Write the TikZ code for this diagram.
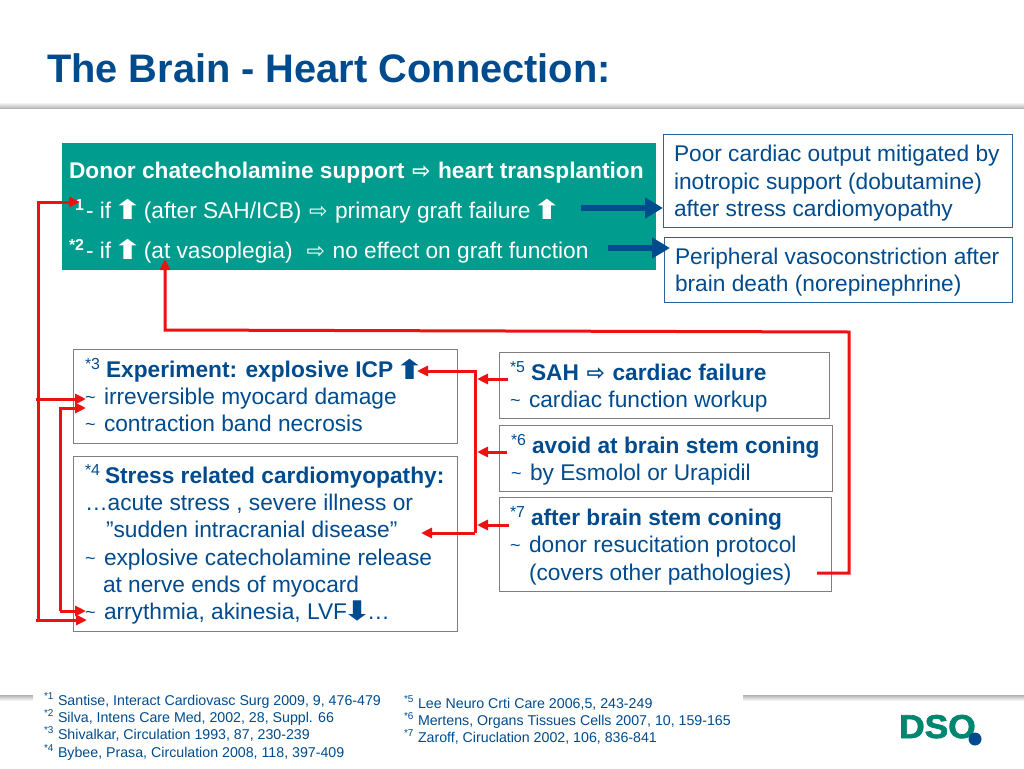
\documentclass[tikz,border=0pt]{standalone}
\usepackage{fontspec}
\setmainfont{Liberation Sans}
\newfontfamily\djfont{DejaVu Sans}
\newfontfamily\logofont[FakeBold=2,Scale=1]{Liberation Sans Bold}
\usetikzlibrary{arrows.meta}
\definecolor{teal1}{HTML}{009C8E}
\definecolor{navy1}{HTML}{004B8D}
\definecolor{red1}{HTML}{EE1111}
\definecolor{boxgray}{HTML}{7F7F7F}
\definecolor{boxblue}{HTML}{2F6199}
\definecolor{logogreen}{HTML}{00856F}
\newcommand{\fsz}[1]{\fontsize{#1}{#1}\selectfont}
\newcommand{\dbl}{\makebox[21pt][c]{\djfont\fsz{22}\symbol{"21E8}}}
\newcommand{\upa}{\makebox[20pt][c]{\raisebox{-1.5pt}{\scalebox{1.35}[1]{\djfont\fsz{27}\symbol{"2B06}}}}}
\newcommand{\dna}{\makebox[20pt][c]{\raisebox{-1.5pt}{\scalebox{1.35}[1]{\djfont\fsz{27}\symbol{"2B07}}}}}
\newcommand{\sstar}[2]{\makebox[#1pt][l]{\textsuperscript{*#2}}}
\newcommand{\tld}{\makebox[19pt][l]{\fsz{18}\raisebox{1pt}{\char`~}}}
\tikzset{
  x=1pt,y=-1pt,
  txt/.style={anchor=base west,inner sep=0pt,outer sep=0pt,text=navy1,font=\fsz{22.7}},
  wtxt/.style={txt,text=white},
  ref/.style={txt,font=\fsz{14.2}},
  graybox/.style={draw=boxgray,line width=1pt},
  bluebox/.style={draw=boxblue,line width=1pt},
  redline/.style={draw=red1,line width=3pt},
  redarrow/.style={redline,-{Triangle[length=11pt,width=10pt]}},
  bluearrow/.style={draw=navy1,line width=6pt,-{Triangle[length=18pt,width=20pt]}},
}
\begin{document}
\begin{tikzpicture}
\useasboundingbox[fill=white] (0,0) rectangle (1024,768);
% bands
\shade[top color=white,bottom color=black!28] (0,102) rectangle (1024,108);
\shade[top color=black!30,bottom color=white] (0,695) rectangle (33,701);
\shade[top color=black!30,bottom color=white] (743,695) rectangle (1024,701);
% title
\node[txt,font=\bfseries\fsz{39.8}] (title) at (47,82) {The Brain - Heart Connection:};
% teal
\fill[teal1] (62,143) rectangle (656,270);
\node[wtxt,font=\bfseries\fsz{22.7}] (t0) at (69,178) {Donor chatecholamine support \dbl{} heart transplantion};
\node[wtxt] (t1) at (69,218) {\textbf{\sstar{17}{1}}- if \upa{} (after SAH/ICB) \dbl{} primary graft failure \upa};
\node[wtxt] (t2) at (69,258) {\textbf{\sstar{17}{2}}- if \upa{} (at vasoplegia) ~\dbl{} no effect on graft function};
% right boxes
\draw[bluebox] (663,134) rectangle (1012,227);
\draw[bluebox] (664,237) rectangle (1012,302);
\node[txt] (a1) at (674,161) {Poor cardiac output mitigated by};
\node[txt] (a2) at (674,189) {inotropic support (dobutamine)};
\node[txt] (a3) at (674,216) {after stress cardiomyopathy};
\node[txt] (b1) at (675,264) {Peripheral vasoconstriction after};
\node[txt] (b2) at (675,291) {brain death (norepinephrine)};
% left boxes
\draw[graybox] (73,349) rectangle (457,443);
\draw[graybox] (73,456) rectangle (457,631);
\node[txt] (c1) at (85,377.5) {\sstar{21}{3}\textbf{Experiment: explosive ICP} \upa};
\node[txt] (c2) at (85,404.5) {\tld irreversible myocard damage};
\node[txt] (c3) at (85,431.5) {\tld contraction band necrosis};
\node[txt] (d1) at (85,483) {\sstar{20}{4}\textbf{Stress related cardiomyopathy:}};
\node[txt] (d2) at (85,510) {…acute stress , severe illness or};
\node[txt] (d3) at (106,537) {”sudden intracranial disease”};
\node[txt] (d4) at (85,565) {\tld explosive catecholamine release};
\node[txt] (d5) at (103,592) {at nerve ends of myocard};
\node[txt] (d6) at (85,619) {\tld arrythmia, akinesia, LVF\dna…};
% middle boxes
\draw[graybox] (499,352) rectangle (829,418);
\draw[graybox] (499.5,425) rectangle (832,491);
\draw[graybox] (499,497) rectangle (831,591);
\node[txt] (e1) at (510,380) {\sstar{21}{5}\textbf{SAH \dbl{} cardiac failure}};
\node[txt] (e2) at (510,407) {\tld cardiac function workup};
\node[txt] (f1) at (511,453) {\sstar{21}{6}\textbf{avoid at brain stem coning}};
\node[txt] (f2) at (511,480) {\tld by Esmolol or Urapidil};
\node[txt] (g1) at (510,525) {\sstar{21}{7}\textbf{after brain stem coning}};
\node[txt] (g2) at (510,552) {\tld donor resucitation protocol};
\node[txt] (g3) at (529,580) {(covers other pathologies)};
% refs
\node[ref] (r1) at (44,705) {\sstar{14}{1}Santise, Interact Cardiovasc Surg 2009, 9, 476-479};
\node[ref] (r2) at (44,722) {\sstar{14}{2}Silva, Intens Care Med, 2002, 28, Suppl. 66};
\node[ref] (r3) at (44,739) {\sstar{14}{3}Shivalkar, Circulation 1993, 87, 230-239};
\node[ref] (r4) at (44,757) {\sstar{14}{4}Bybee, Prasa, Circulation 2008, 118, 397-409};
\node[ref] (r5) at (404,708) {\sstar{14}{5}Lee Neuro Crti Care 2006,5, 243-249};
\node[ref] (r6) at (404,725) {\sstar{14}{6}Mertens, Organs Tissues Cells 2007, 10, 159-165};
\node[ref] (r7) at (404,742) {\sstar{14}{7}Zaroff, Ciruclation 2002, 106, 836-841};
% logo
\node[anchor=base west,inner sep=0pt,text=logogreen,font=\logofont\fsz{33}] (logo) at (899,738) {\scalebox{1.07}[1]{DSO}};
\fill[navy1] (975,739) circle (6.5);
% connector coordinates
\coordinate (p1s) at (38,620); \coordinate (p1a) at (38,202); \coordinate (p1e) at (80,202);
\coordinate (p2s) at (36,399); \coordinate (p2e) at (86,399);
\coordinate (p3s) at (36,620); \coordinate (p3e) at (87,620);
\coordinate (p4a) at (60,408); \coordinate (p4e) at (86,408);
\coordinate (p4b) at (60,611); \coordinate (p4f) at (86,611);
\coordinate (q1) at (475,371); \coordinate (q1e) at (417,371);
\coordinate (q2) at (475,533); \coordinate (q2e) at (421,533);
\coordinate (m1s) at (508,379); \coordinate (m1e) at (477,379);
\coordinate (m2s) at (507,452); \coordinate (m2e) at (477,452);
\coordinate (m3s) at (509,525); \coordinate (m3e) at (477,525);
\coordinate (l0) at (817,573); \coordinate (l1) at (849,573); \coordinate (l2) at (849,332);
\coordinate (l3) at (165,330); \coordinate (l4) at (165,259);
\coordinate (u1s) at (581,208); \coordinate (u1e) at (663,208);
\coordinate (u2s) at (608,248); \coordinate (u2e) at (670,248);
% red connectors
\draw[redarrow] (p1s) -- (p1a) -- (p1e);
\draw[redarrow] (p2s) -- (p2e);
\draw[redarrow] (p3s) -- (p3e);
\draw[redarrow] (p4b) -- (p4a) -- (p4e);
\draw[redarrow] (p4b) -- (p4f);
\draw[redarrow] (q2) -- (q1) -- (q1e);
\draw[redarrow] (q2) -- (q2e);
\draw[redarrow] (m1s) -- (m1e);
\draw[redarrow] (m2s) -- (m2e);
\draw[redarrow] (m3s) -- (m3e);
\draw[redarrow] (l0) -- (l1) -- (l2) -- (l3) -- (l4);
% blue connectors
\draw[bluearrow] (u1s) -- (u1e);
\draw[bluearrow] (u2s) -- (u2e);
\end{tikzpicture}
\end{document}
